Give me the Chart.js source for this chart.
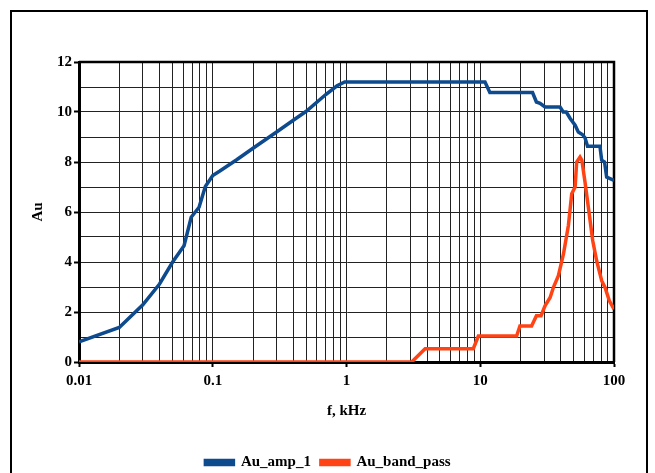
<!DOCTYPE html>
<html>
<head>
<meta charset="utf-8">
<script src="https://cdn.jsdelivr.net/npm/chart.js@4.4.1/dist/chart.umd.min.js"></script>
<style>
  html, body { margin: 0; padding: 0; background: #fff; }
  #wrap { position: relative; width: 655px; height: 473px; overflow: hidden; }
  #frame { position: absolute; left: 10px; top: 10px; width: 634px; height: 480px; border: 2px solid #000; pointer-events: none; }
  canvas { position: absolute; left: 0; top: 0; }
</style>
</head>
<body>
<div id="wrap">
  <canvas id="c" width="655" height="473"></canvas>
  <div id="frame"></div>
</div>
<script>
// ---- data ----
const ampFreq = [0.01, 0.02, 0.03, 0.04, 0.05, 0.061, 0.069, 0.079, 0.088, 0.1, 0.113, 0.15, 0.2, 0.3, 0.4, 0.5, 0.7, 0.85, 0.97, 10.85, 11.8, 24.6, 26.3, 28, 30.5, 39.5, 41.7, 44, 46.9, 51.2, 54.1, 58, 60.7, 63.4, 78.5, 80.9, 85, 88.1, 100];
const ampGain = [0.81, 1.38, 2.29, 3.12, 3.99, 4.65, 5.79, 6.19, 7.02, 7.46, 7.64, 8.08, 8.55, 9.2, 9.67, 10.03, 10.7, 11.05, 11.2, 11.2, 10.78, 10.78, 10.4, 10.35, 10.2, 10.2, 10.0, 10.0, 9.75, 9.47, 9.2, 9.1, 8.97, 8.63, 8.63, 8.07, 8.0, 7.4, 7.26];

const bpFreq = [0.01, 3.07, 3.87, 8.87, 9.68, 18.7, 19.8, 24.2, 26.3, 28.5, 30.5, 33.3, 35.2, 38.4, 41.9, 45.6, 48.3, 51.2, 52.6, 55.7, 57.5, 60.7, 64.3, 69.3, 74.2, 80.9, 85.7, 92.3, 100];
const bpGain = [0, 0, 0.53, 0.53, 1.04, 1.04, 1.44, 1.44, 1.85, 1.85, 2.25, 2.58, 2.98, 3.45, 4.32, 5.46, 6.73, 7.0, 8.0, 8.2, 8.07, 7.2, 6.19, 4.86, 4.05, 3.25, 2.98, 2.45, 2.11];

const seriesNames = ['Au_amp_1', 'Au_band_pass'];
const xTickLabels = ['0.01', '0.1', '1', '10', '100'];
const yTickLabels = ['0', '2', '4', '6', '8', '10', '12'];
const xTitle = 'f, kHz';
const yTitle = 'Au';

// ---- build ----
const toPts = (xs, ys) => xs.map((x, i) => ({ x: x, y: ys[i] }));
const xMajors = xTickLabels.map(parseFloat);
const xTicks = [];
xMajors.forEach((m, i) => {
  xTicks.push({ value: m, major: true });
  if (i < xMajors.length - 1) for (let k = 2; k <= 9; k++) xTicks.push({ value: m * k, major: false });
});
const yMajors = yTickLabels.map(parseFloat);

const FONT = { family: '"Liberation Serif", "Times New Roman", serif', weight: 'bold', size: 15 };
const BLUE = '#0d4a8e';
const ORANGE = '#ff4314';

const framePlugin = {
  id: 'frameBox',
  afterLayout(chart) {
    if (chart.legend) { chart.legend.left += 11; chart.legend.right += 11; }
  },
  beforeDatasetsDraw(chart) {
    const a = chart.chartArea, ctx = chart.ctx;
    ctx.save();
    ctx.strokeStyle = '#000';
    ctx.lineWidth = 2.5;
    ctx.beginPath();
    ctx.moveTo(a.left, a.top); ctx.lineTo(a.right, a.top); ctx.lineTo(a.right, a.bottom);
    ctx.stroke();
    ctx.restore();
  }
};

new Chart(document.getElementById('c'), {
  type: 'line',
  data: {
    datasets: [
      { label: seriesNames[0], data: toPts(ampFreq, ampGain), borderColor: BLUE, backgroundColor: BLUE, borderWidth: 3.5, pointRadius: 0, tension: 0 },
      { label: seriesNames[1], data: toPts(bpFreq, bpGain), borderColor: ORANGE, backgroundColor: ORANGE, borderWidth: 3.5, pointRadius: 0, tension: 0 }
    ]
  },
  options: {
    responsive: false,
    animation: false,
    layout: { padding: { left: 20, right: 41, top: 62, bottom: -7 } },
    plugins: {
      legend: {
        position: 'bottom',
        labels: { font: FONT, color: '#000', boxWidth: 28, boxHeight: 4, padding: 10 }
      },
      tooltip: { enabled: false }
    },
    scales: {
      x: {
        type: 'logarithmic',
        min: 0.01, max: 100,
        afterBuildTicks: (s) => { s.ticks = xTicks.map(t => ({ value: t.value, major: t.major })); },
        afterFit: (s) => { s.height = 83; },
        ticks: {
          autoSkip: false, maxRotation: 0, color: '#000', font: FONT, padding: 5,
          callback: (v) => { const i = xMajors.findIndex(m => Math.abs(m - v) < 1e-9); return i >= 0 ? xTickLabels[i] : ''; }
        },
        grid: {
          color: '#222', lineWidth: 1, tickLength: 5,
          tickColor: (c) => (c.tick && xMajors.some(m => Math.abs(m - c.tick.value) < 1e-9)) ? '#000' : 'rgba(0,0,0,0)',
          tickWidth: 2
        },
        border: { color: '#000', width: 3 },
        title: { display: true, text: xTitle, color: '#000', font: FONT, padding: { top: 4, bottom: 25 } }
      },
      y: {
        min: 0, max: 12,
        afterFit: (s) => { s.width = 59; },
        ticks: {
          stepSize: 1, color: '#000', font: FONT, padding: 2,
          callback: (v) => { const i = yMajors.indexOf(v); return i >= 0 ? yTickLabels[i] : ''; }
        },
        grid: {
          color: '#222', lineWidth: 1, tickLength: 5,
          tickColor: (c) => (c.tick && yMajors.indexOf(c.tick.value) >= 0) ? '#000' : 'rgba(0,0,0,0)',
          tickWidth: 2
        },
        border: { color: '#000', width: 3 },
        title: { display: true, text: yTitle, color: '#000', font: FONT, padding: { top: 9, bottom: 4 } }
      }
    }
  },
  plugins: [framePlugin]
});
</script>
</body>
</html>
